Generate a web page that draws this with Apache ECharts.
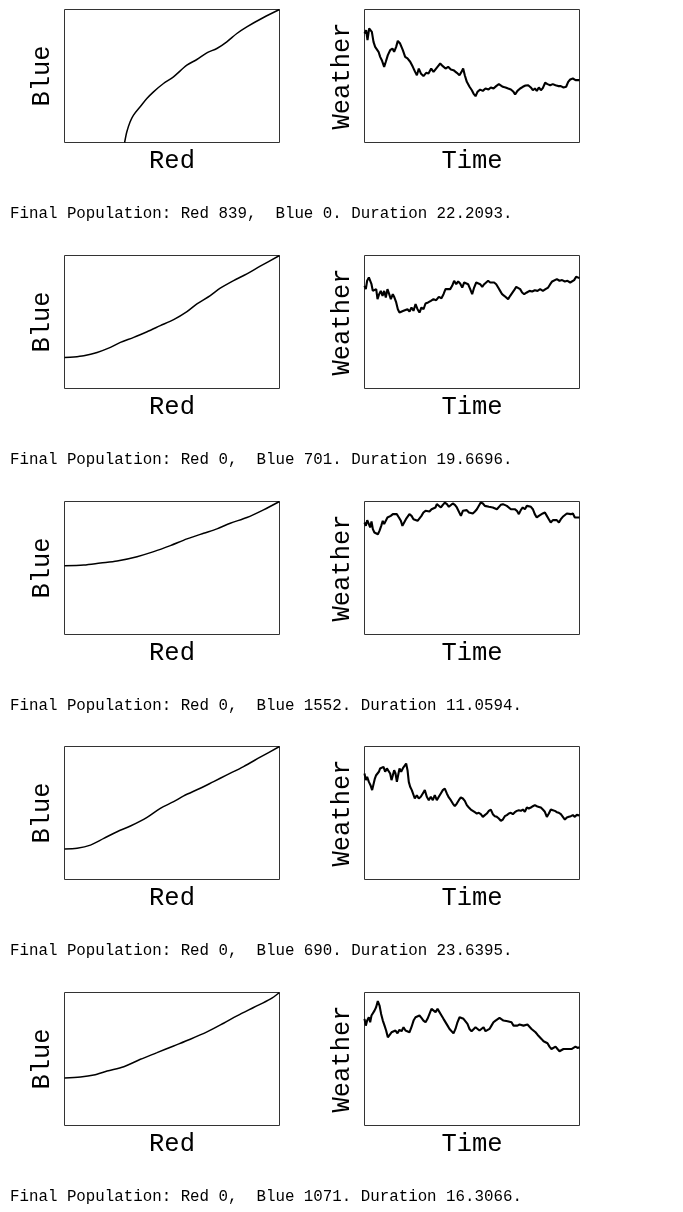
<!DOCTYPE html>
<html>
<head>
<meta charset="utf-8">
<title>Red / Blue runs</title>
<script src="https://cdn.jsdelivr.net/npm/echarts@6/dist/echarts.min.js"></script>
<style>
    html, body { margin: 0; padding: 0; background: #fff; }
    #chart { width: 683px; height: 1212px; }
</style>
</head>
<body>
<div id="chart"></div>
<script>
// run summaries
const finalRed = [839, 0, 0, 0, 0]
const finalBlue = [0, 701, 1552, 690, 1071]
const durations = [22.2093, 19.6696, 11.0594, 23.6395, 16.3066]

// phase curves: Blue against Red
const red1 = [3000, 2777, 2544, 2405, 2265, 2126, 1986, 1847, 1707, 1521, 1381, 1242, 1149, 1056, 963, 916, 870, 839]
const blue1 = [3000, 2820, 2609, 2459, 2271, 2120, 2023, 1872, 1744, 1481, 1331, 1143, 992, 805, 617, 466, 241, 0]
const red2 = [3000, 2731, 2545, 2359, 2173, 2034, 1848, 1709, 1523, 1337, 1152, 966, 780, 641, 455, 269, 130, 0]
const blue2 = [3000, 2759, 2586, 2435, 2262, 2096, 1907, 1734, 1553, 1417, 1281, 1153, 1040, 927, 814, 739, 712, 701]
const red3 = [3000, 2777, 2545, 2313, 2127, 1941, 1709, 1477, 1245, 1012, 734, 502, 269, 0]
const blue3 = [3000, 2812, 2638, 2510, 2382, 2284, 2156, 2005, 1869, 1756, 1658, 1613, 1568, 1552]
const red4 = [3000, 2731, 2498, 2266, 2081, 1895, 1663, 1523, 1337, 1152, 920, 734, 548, 362, 176, 0]
const blue4 = [3000, 2759, 2548, 2359, 2209, 2058, 1885, 1756, 1606, 1402, 1206, 1078, 927, 776, 705, 690]
const red5 = [3000, 2870, 2638, 2406, 2220, 1988, 1755, 1523, 1291, 1059, 827, 594, 409, 223, 0]
const blue5 = [3000, 2849, 2661, 2472, 2307, 2111, 1945, 1794, 1643, 1493, 1327, 1229, 1138, 1093, 1071]

// weather traces: time / weather (0..1 scale)
const time1 = [0.00, 0.17, 0.31, 0.48, 0.65, 0.76, 0.93, 1.10, 1.27, 1.45, 1.62, 1.79, 2.03, 2.20, 2.41, 2.65, 2.89, 3.06, 3.27, 3.44, 3.68, 3.96, 4.20, 4.44, 4.72, 4.99, 5.23, 5.41, 5.61, 5.82, 6.09, 6.37, 6.61, 6.89, 7.13, 7.33, 7.54, 7.82, 8.09, 8.37, 8.64, 8.92, 9.19, 9.54, 9.81, 10.02, 10.19, 10.36, 10.57, 10.85, 11.09, 11.26, 11.47, 11.67, 11.95, 12.22, 12.50, 12.81, 13.05, 13.33, 13.60, 13.88, 14.08, 14.29, 14.57, 14.84, 15.12, 15.39, 15.56, 15.80, 16.08, 16.36, 16.63, 16.91, 17.18, 17.39, 17.60, 17.80, 18.01, 18.22, 18.42, 18.66, 18.90, 19.18, 19.45, 19.73, 20.01, 20.28, 20.56, 20.83, 21.04, 21.25, 21.52, 21.80, 22.00, 22.21]
const weather1 = [0.820, 0.845, 0.769, 0.857, 0.870, 0.832, 0.757, 0.719, 0.707, 0.682, 0.644, 0.619, 0.569, 0.607, 0.657, 0.694, 0.707, 0.682, 0.719, 0.764, 0.744, 0.694, 0.644, 0.632, 0.607, 0.569, 0.531, 0.506, 0.556, 0.519, 0.499, 0.524, 0.519, 0.556, 0.531, 0.519, 0.569, 0.594, 0.574, 0.556, 0.569, 0.549, 0.544, 0.524, 0.506, 0.531, 0.556, 0.506, 0.456, 0.419, 0.393, 0.368, 0.348, 0.381, 0.398, 0.388, 0.406, 0.398, 0.414, 0.406, 0.424, 0.439, 0.444, 0.419, 0.414, 0.406, 0.398, 0.381, 0.361, 0.388, 0.406, 0.419, 0.429, 0.431, 0.414, 0.393, 0.406, 0.388, 0.414, 0.393, 0.409, 0.449, 0.439, 0.431, 0.439, 0.431, 0.424, 0.424, 0.414, 0.419, 0.456, 0.474, 0.481, 0.469, 0.479, 0.469]

const time2 = [0.00, 0.12, 0.24, 0.40, 0.52, 0.64, 0.76, 0.91, 1.07, 1.19, 1.34, 1.49, 1.65, 1.80, 1.95, 2.10, 2.26, 2.41, 2.59, 2.74, 2.90, 3.05, 3.20, 3.35, 3.57, 3.75, 3.93, 4.12, 4.30, 4.48, 4.67, 4.85, 5.03, 5.21, 5.40, 5.58, 5.82, 6.07, 6.31, 6.56, 6.80, 7.04, 7.23, 7.41, 7.59, 7.84, 8.02, 8.20, 8.39, 8.57, 8.75, 8.94, 9.12, 9.30, 9.48, 9.67, 9.85, 10.03, 10.22, 10.40, 10.58, 10.77, 10.95, 11.13, 11.31, 11.50, 11.68, 11.86, 12.05, 12.23, 12.41, 12.59, 12.78, 12.96, 13.14, 13.33, 13.51, 13.69, 13.88, 14.06, 14.24, 14.42, 14.61, 14.85, 15.10, 15.34, 15.58, 15.83, 16.07, 16.32, 16.56, 16.80, 16.99, 17.17, 17.35, 17.60, 17.84, 18.08, 18.33, 18.57, 18.82, 19.00, 19.18, 19.36, 19.52, 19.67]
const weather2 = [0.772, 0.747, 0.810, 0.835, 0.847, 0.784, 0.734, 0.722, 0.747, 0.672, 0.709, 0.734, 0.697, 0.734, 0.684, 0.747, 0.709, 0.672, 0.709, 0.684, 0.647, 0.596, 0.571, 0.559, 0.584, 0.571, 0.596, 0.579, 0.609, 0.584, 0.634, 0.596, 0.571, 0.609, 0.596, 0.639, 0.647, 0.659, 0.672, 0.664, 0.689, 0.679, 0.709, 0.747, 0.759, 0.747, 0.772, 0.810, 0.784, 0.805, 0.789, 0.759, 0.797, 0.810, 0.784, 0.747, 0.709, 0.759, 0.797, 0.810, 0.784, 0.764, 0.784, 0.789, 0.810, 0.797, 0.784, 0.797, 0.784, 0.759, 0.734, 0.709, 0.697, 0.684, 0.672, 0.697, 0.709, 0.739, 0.764, 0.772, 0.747, 0.722, 0.709, 0.722, 0.734, 0.729, 0.739, 0.734, 0.747, 0.734, 0.747, 0.759, 0.784, 0.805, 0.815, 0.822, 0.810, 0.815, 0.805, 0.810, 0.797, 0.784, 0.815, 0.840, 0.847, 0.830]

const time3 = [0.00, 0.07, 0.14, 0.21, 0.29, 0.36, 0.43, 0.51, 0.60, 0.69, 0.77, 0.86, 0.94, 1.01, 1.10, 1.18, 1.27, 1.35, 1.46, 1.56, 1.66, 1.77, 1.87, 1.95, 2.04, 2.13, 2.21, 2.31, 2.42, 2.52, 2.62, 2.73, 2.83, 2.93, 3.03, 3.14, 3.24, 3.34, 3.45, 3.55, 3.65, 3.72, 3.82, 3.93, 4.03, 4.13, 4.24, 4.34, 4.44, 4.54, 4.65, 4.75, 4.85, 4.96, 5.06, 5.16, 5.26, 5.37, 5.47, 5.57, 5.68, 5.78, 5.88, 5.98, 6.09, 6.19, 6.29, 6.40, 6.50, 6.60, 6.70, 6.81, 6.91, 7.01, 7.12, 7.22, 7.32, 7.42, 7.53, 7.63, 7.73, 7.84, 7.94, 8.04, 8.14, 8.25, 8.35, 8.45, 8.56, 8.66, 8.76, 8.86, 8.97, 9.07, 9.17, 9.28, 9.38, 9.48, 9.58, 9.69, 9.79, 9.89, 10.00, 10.10, 10.20, 10.30, 10.41, 10.51, 10.61, 10.72, 10.82, 10.92, 11.06]
const weather3 = [0.842, 0.817, 0.860, 0.835, 0.805, 0.850, 0.792, 0.767, 0.779, 0.754, 0.779, 0.817, 0.855, 0.830, 0.842, 0.880, 0.867, 0.892, 0.905, 0.917, 0.905, 0.880, 0.855, 0.817, 0.842, 0.867, 0.880, 0.905, 0.892, 0.867, 0.880, 0.855, 0.867, 0.892, 0.917, 0.930, 0.935, 0.925, 0.942, 0.930, 0.955, 0.980, 0.967, 0.955, 0.975, 0.992, 0.980, 0.960, 0.975, 0.985, 0.975, 0.955, 0.942, 0.892, 0.930, 0.917, 0.935, 0.917, 0.930, 0.910, 0.925, 0.942, 0.930, 0.992, 0.985, 0.967, 0.980, 0.960, 0.967, 0.955, 0.960, 0.942, 0.955, 0.975, 0.980, 0.992, 0.967, 0.960, 0.942, 0.955, 0.942, 0.930, 0.905, 0.935, 0.955, 0.942, 0.967, 0.975, 0.960, 0.942, 0.905, 0.880, 0.892, 0.885, 0.910, 0.917, 0.892, 0.867, 0.842, 0.860, 0.850, 0.860, 0.842, 0.867, 0.885, 0.900, 0.910, 0.917, 0.905, 0.910, 0.880, 0.885, 0.880]

const time4 = [0.00, 0.15, 0.29, 0.48, 0.66, 0.84, 0.99, 1.14, 1.28, 1.43, 1.58, 1.72, 1.91, 2.09, 2.27, 2.46, 2.64, 2.82, 2.97, 3.12, 3.26, 3.41, 3.56, 3.70, 3.85, 4.03, 4.21, 4.40, 4.58, 4.73, 4.87, 5.02, 5.20, 5.39, 5.53, 5.75, 5.97, 6.19, 6.41, 6.63, 6.85, 7.07, 7.29, 7.51, 7.73, 7.95, 8.17, 8.39, 8.61, 8.83, 9.05, 9.27, 9.49, 9.71, 9.93, 10.15, 10.37, 10.59, 10.81, 11.03, 11.25, 11.47, 11.69, 11.91, 12.13, 12.35, 12.57, 12.79, 13.01, 13.23, 13.45, 13.67, 13.89, 14.11, 14.33, 14.55, 14.77, 14.99, 15.21, 15.43, 15.65, 15.87, 16.09, 16.31, 16.53, 16.75, 16.97, 17.19, 17.41, 17.63, 17.85, 18.07, 18.29, 18.51, 18.73, 18.95, 19.17, 19.39, 19.61, 19.83, 20.05, 20.27, 20.49, 20.71, 20.93, 21.15, 21.37, 21.59, 21.81, 22.03, 22.25, 22.47, 22.69, 22.91, 23.13, 23.35, 23.64]
const weather4 = [0.797, 0.747, 0.772, 0.734, 0.709, 0.672, 0.684, 0.759, 0.784, 0.772, 0.810, 0.835, 0.822, 0.847, 0.810, 0.835, 0.822, 0.797, 0.747, 0.784, 0.822, 0.797, 0.734, 0.784, 0.835, 0.810, 0.835, 0.847, 0.872, 0.822, 0.734, 0.697, 0.672, 0.659, 0.609, 0.634, 0.609, 0.622, 0.647, 0.672, 0.622, 0.596, 0.622, 0.596, 0.634, 0.596, 0.622, 0.647, 0.672, 0.684, 0.647, 0.617, 0.596, 0.571, 0.551, 0.571, 0.596, 0.617, 0.609, 0.591, 0.559, 0.541, 0.526, 0.516, 0.506, 0.496, 0.501, 0.491, 0.471, 0.484, 0.496, 0.516, 0.526, 0.491, 0.476, 0.471, 0.459, 0.441, 0.451, 0.476, 0.484, 0.496, 0.501, 0.491, 0.506, 0.516, 0.521, 0.516, 0.526, 0.509, 0.541, 0.534, 0.541, 0.551, 0.559, 0.551, 0.546, 0.541, 0.526, 0.509, 0.471, 0.496, 0.526, 0.521, 0.516, 0.506, 0.501, 0.491, 0.471, 0.451, 0.466, 0.471, 0.476, 0.484, 0.471, 0.486, 0.481]

const time5 = [0.00, 0.10, 0.20, 0.33, 0.43, 0.53, 0.63, 0.76, 0.88, 1.01, 1.14, 1.26, 1.39, 1.52, 1.64, 1.77, 1.90, 2.05, 2.20, 2.35, 2.50, 2.65, 2.81, 2.96, 3.11, 3.26, 3.41, 3.56, 3.72, 3.87, 4.02, 4.17, 4.32, 4.47, 4.63, 4.78, 4.93, 5.08, 5.23, 5.39, 5.54, 5.69, 5.84, 5.99, 6.14, 6.30, 6.45, 6.60, 6.75, 6.90, 7.05, 7.21, 7.36, 7.51, 7.66, 7.81, 7.96, 8.12, 8.27, 8.42, 8.57, 8.72, 8.87, 9.03, 9.18, 9.33, 9.48, 9.63, 9.78, 9.94, 10.09, 10.24, 10.39, 10.54, 10.69, 10.85, 11.00, 11.15, 11.30, 11.45, 11.60, 11.76, 11.91, 12.06, 12.21, 12.36, 12.51, 12.67, 12.82, 12.97, 13.12, 13.27, 13.42, 13.58, 13.73, 13.88, 14.03, 14.18, 14.33, 14.49, 14.64, 14.79, 14.94, 15.09, 15.24, 15.40, 15.55, 15.70, 15.85, 16.00, 16.16, 16.31]
const weather5 = [0.802, 0.751, 0.789, 0.814, 0.776, 0.827, 0.839, 0.864, 0.889, 0.935, 0.902, 0.839, 0.789, 0.751, 0.714, 0.663, 0.676, 0.701, 0.688, 0.714, 0.693, 0.719, 0.709, 0.739, 0.714, 0.726, 0.701, 0.739, 0.789, 0.814, 0.802, 0.827, 0.809, 0.789, 0.776, 0.802, 0.839, 0.877, 0.864, 0.852, 0.877, 0.864, 0.827, 0.802, 0.789, 0.751, 0.726, 0.714, 0.693, 0.726, 0.776, 0.814, 0.827, 0.802, 0.789, 0.764, 0.726, 0.709, 0.719, 0.739, 0.726, 0.714, 0.726, 0.739, 0.709, 0.714, 0.726, 0.751, 0.776, 0.789, 0.794, 0.809, 0.802, 0.789, 0.794, 0.784, 0.789, 0.776, 0.751, 0.739, 0.751, 0.759, 0.744, 0.751, 0.739, 0.759, 0.744, 0.726, 0.714, 0.701, 0.683, 0.668, 0.651, 0.633, 0.626, 0.618, 0.593, 0.575, 0.583, 0.593, 0.575, 0.558, 0.568, 0.575, 0.568, 0.575, 0.568, 0.575, 0.583, 0.593, 0.583, 0.588]

const reds = [red1, red2, red3, red4, red5]
const blues = [blue1, blue2, blue3, blue4, blue5]
const times = [time1, time2, time3, time4, time5]
const weathers = [weather1, weather2, weather3, weather4, weather5]

const FONT = '"Liberation Mono", "DejaVu Sans Mono", monospace'
const ROW_TOP = 9
const ROW_STEP = 245.75
const BOX_H = 133
const BOX_W = 215

const zip = (xs, ys) => xs.map((x, i) => [x, ys[i]])

const chart = echarts.init(document.getElementById('chart'))

const grid = []
const xAxis = []
const yAxis = []
const series = []
const title = []

const axisBase = {
    type: 'value',
    axisLine: { show: false },
    axisTick: { show: false },
    axisLabel: { show: false },
    splitLine: { show: false },
    nameLocation: 'middle',
    nameTextStyle: {
        fontFamily: FONT,
        fontSize: 25.5,
        color: '#000',
    },
}

for (let i = 0; i < 5; i++) {
    const top = Math.round(ROW_TOP + i * ROW_STEP)
    // half-pixel offsets keep the 1px frame crisp
    ;[64, 364].forEach((left) => {
        grid.push({
            left: left + 0.5,
            top: top + 0.5,
            width: BOX_W,
            height: BOX_H,
            show: true,
            borderColor: '#333',
            borderWidth: 1,
        })
    })
    const g = i * 2

    // left: Blue vs Red
    xAxis.push(Object.assign({}, axisBase, { gridIndex: g, min: 0, max: 3000, name: 'Red', nameGap: 6 }))
    yAxis.push(Object.assign({}, axisBase, { gridIndex: g, min: 0, max: 3000, name: 'Blue', nameGap: 9 }))
    // right: Weather vs Time
    xAxis.push(Object.assign({}, axisBase, { gridIndex: g + 1, min: 0, max: durations[i], name: 'Time', nameGap: 6 }))
    yAxis.push(Object.assign({}, axisBase, { gridIndex: g + 1, min: 0, max: 1, name: 'Weather', nameGap: 9 }))

    series.push({
        type: 'line',
        xAxisIndex: g,
        yAxisIndex: g,
        data: zip(reds[i], blues[i]),
        showSymbol: false,
        smooth: 0.3,
        lineStyle: { color: '#000', width: 1.5 },
    })
    series.push({
        type: 'line',
        xAxisIndex: g + 1,
        yAxisIndex: g + 1,
        data: zip(times[i], weathers[i]),
        showSymbol: false,
        lineStyle: { color: '#000', width: 2.1 },
    })

    title.push({
        text: `Final Population: Red ${finalRed[i]},  Blue ${finalBlue[i]}. Duration ${durations[i]}.`,
        left: 10,
        top: top + 197,
        padding: 0,
        textStyle: {
            fontFamily: FONT,
            fontSize: 15.8,
            fontWeight: 'normal',
            color: '#000',
        },
    })
}

chart.setOption({
    animation: false,
    backgroundColor: '#fff',
    title: title,
    grid: grid,
    xAxis: xAxis,
    yAxis: yAxis,
    series: series,
})
</script>
</body>
</html>
